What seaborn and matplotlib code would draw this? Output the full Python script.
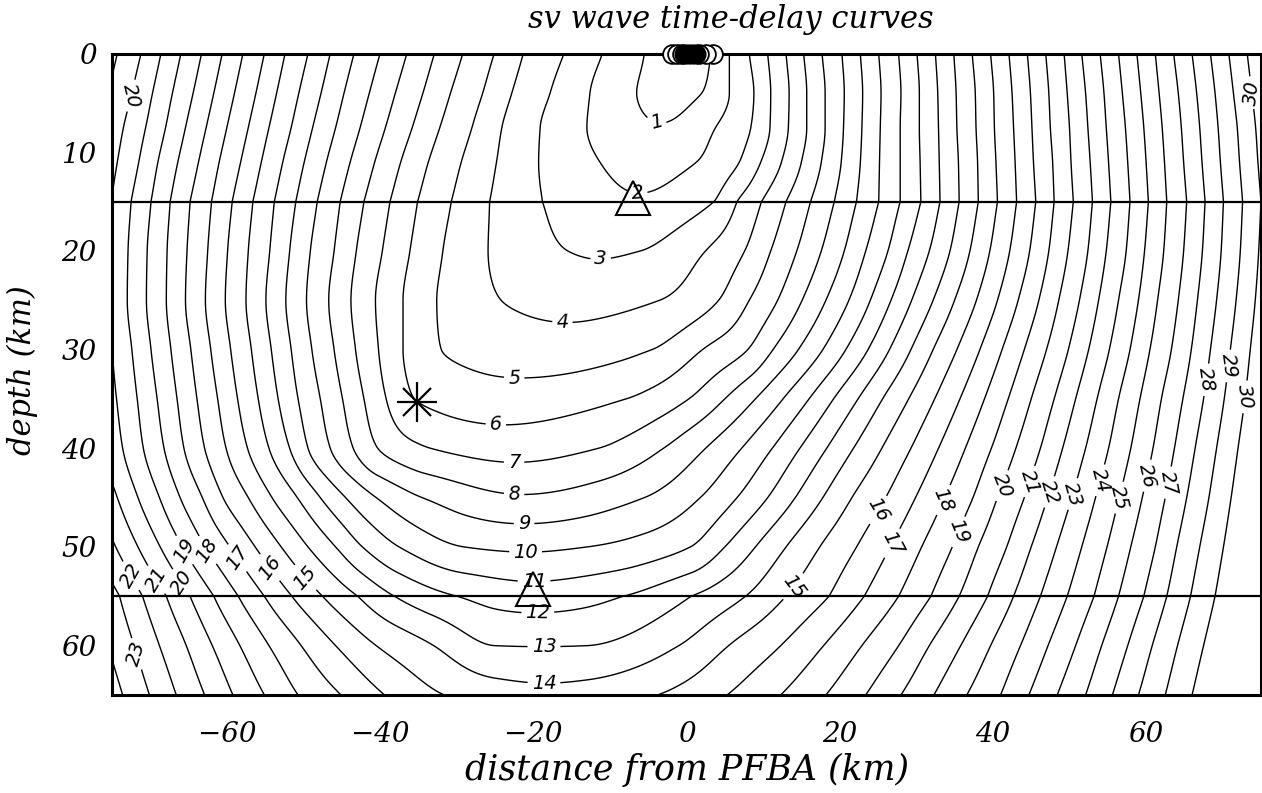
import numpy as np
import matplotlib
matplotlib.use("Agg")
import matplotlib.pyplot as plt
import seaborn as sns

# ---------------- data ----------------
# Each depth row: x-positions (km) where consecutive integer delay contours
# cross that depth, left of the row minimum (going outward) and right of it.
ROW_DEPTHS = [0.0, 4.0, 7.5, 11.0, 15.0, 20.0, 25.0, 30.0, 35.0, 40.0, 45.0, 50.0,
              55.0, 60.0, 65.0]

Z00_MIN = (0.0, 0.0)
Z00_LEFT0 = 1
Z00_LEFT = [-5.5, -11.0, -16.0, -21.3, -25.1, -29.2, -32.9, -36.5, -40.0, -43.4, -46.5,
            -49.4, -52.4, -55.1, -57.9, -60.6, -63.3, -66.0, -68.6, -71.2, -74.3]
Z00_RIGHT0 = 1
Z00_RIGHT = [3.2, 5.6, 8.2, 10.6, 13.0, 15.3, 17.7, 20.3, 22.7, 25.1, 27.7, 30.1, 32.5,
             34.9, 37.3, 39.7, 42.1, 44.5, 46.9, 49.3, 51.6, 54.0, 56.4, 58.8, 61.2,
             63.6, 66.0, 68.4, 70.8, 73.2]

Z04_MIN = (-2.0, 0.55)
Z04_LEFT0 = 1
Z04_LEFT = [-6.5, -12.6, -17.8, -22.8, -26.6, -30.8, -34.4, -38.0, -41.4, -44.7, -47.7,
            -50.6, -53.5, -56.2, -59.0, -61.7, -64.4, -67.1, -69.7, -72.4, -75.5]
Z04_RIGHT0 = 1
Z04_RIGHT = [2.0, 5.6, 8.8, 11.0, 13.4, 15.7, 18.1, 20.6, 23.0, 25.4, 28.0, 30.4, 32.8,
             35.2, 37.7, 40.1, 42.5, 44.9, 47.3, 49.7, 52.1, 54.5, 56.9, 59.3, 61.7,
             64.2, 66.6, 69.0, 71.4, 73.8]

Z07_MIN = (-3.4, 1.07)
Z07_LEFT0 = 2
Z07_LEFT = [-13.0, -19.1, -24.1, -28.0, -32.2, -35.8, -39.3, -42.6, -45.8, -48.8, -51.6,
            -54.5, -57.2, -60.0, -62.7, -65.4, -68.0, -70.6, -73.5]
Z07_RIGHT0 = 2
Z07_RIGHT = [3.8, 8.4, 10.9, 13.3, 15.7, 18.1, 20.5, 22.9, 25.3, 27.9, 30.4, 32.9, 35.3,
             37.8, 40.2, 42.7, 45.1, 47.5, 50.0, 52.4, 54.8, 57.3, 59.7, 62.1, 64.6,
             67.0, 69.4, 71.9, 74.3]

Z11_MIN = (-5.0, 1.6)
Z11_LEFT0 = 2
Z11_LEFT = [-11.3, -19.3, -24.8, -29.4, -33.7, -37.3, -40.7, -43.9, -47.0, -49.9, -52.7,
            -55.5, -58.2, -61.0, -63.7, -66.4, -69.0, -71.5, -74.3]
Z11_RIGHT0 = 2
Z11_RIGHT = [1.3, 6.9, 9.7, 12.4, 15.0, 17.6, 20.2, 22.7, 25.2, 27.9, 30.5, 33.0, 35.5,
             38.0, 40.4, 42.9, 45.3, 47.8, 50.2, 52.7, 55.1, 57.6, 60.0, 62.4, 64.9,
             67.3, 69.7, 72.2, 74.6]

Z15_MIN = (-6.5, 2.1)
Z15_LEFT0 = 3
Z15_LEFT = [-18.8, -25.7, -30.7, -35.1, -38.7, -42.1, -45.2, -48.2, -51.0, -53.8, -56.6,
            -59.3, -62.0, -64.8, -67.4, -69.9, -72.5]
Z15_RIGHT0 = 3
Z15_RIGHT = [3.6, 6.6, 9.8, 13.0, 16.2, 19.3, 22.2, 25.1, 27.9, 30.6, 33.1, 35.6, 38.1,
             40.6, 43.1, 45.6, 48.0, 50.5, 53.0, 55.4, 57.9, 60.3, 62.7, 65.3, 67.7,
             70.1, 72.6, 75.0]

Z20_MIN = (-11.0, 2.88)
Z20_LEFT0 = 3
Z20_LEFT = [-15.5, -25.9, -31.8, -36.1, -39.7, -43.1, -46.0, -49.1, -51.8, -54.4, -57.2,
            -59.9, -62.5, -65.2, -67.8, -70.4, -72.9]
Z20_RIGHT0 = 3
Z20_RIGHT = [-6.0, 2.5, 7.6, 11.0, 14.4, 17.6, 20.6, 23.4, 26.3, 28.9, 31.7, 34.4, 37.0,
             39.6, 42.2, 44.8, 47.3, 49.8, 52.4, 54.8, 57.4, 59.8, 62.3, 64.9, 67.35,
             69.8, 72.3, 74.7]

Z25_MIN = (-14.0, 3.65)
Z25_LEFT0 = 4
Z25_LEFT = [-24.2, -32.6, -37.0, -40.6, -43.8, -46.7, -49.6, -52.3, -54.9, -57.5, -60.2,
            -62.8, -65.4, -67.9, -70.5, -73.0, -75.5]
Z25_RIGHT0 = 4
Z25_RIGHT = [-3.5, 4.2, 8.2, 11.9, 15.1, 18.2, 21.2, 24.0, 26.7, 29.4, 32.2, 35.0, 37.85,
             40.6, 43.3, 46.0, 48.6, 51.3, 53.8, 56.4, 59.0, 61.5, 64.2, 66.7, 69.2,
             71.75, 74.25]

Z30_MIN = (-18.0, 4.45)
Z30_LEFT0 = 5
Z30_LEFT = [-32.0, -37.0, -40.2, -43.2, -46.0, -48.9, -51.6, -54.2, -56.8, -59.5, -62.1,
            -64.7, -67.3, -69.9, -72.4, -75.0]
Z30_RIGHT0 = 5
Z30_RIGHT = [-4.5, 2.1, 8.0, 11.3, 14.6, 17.8, 20.8, 23.7, 26.5, 29.3, 32.2, 35.3, 38.3,
             41.2, 44.1, 47.0, 49.85, 52.5, 55.2, 57.9, 60.5, 63.3, 65.9, 68.4, 71.0, 73.6]

Z35_MIN = (-24.0, 5.42)
Z35_LEFT0 = 6
Z35_LEFT = [-35.5, -39.2, -42.1, -44.9, -47.8, -50.7, -53.3, -55.9, -58.6, -61.2, -63.9,
            -66.5, -69.1, -71.7, -74.4]
Z35_RIGHT0 = 6
Z35_RIGHT = [-7.9, 0.3, 5.0, 9.0, 12.6, 16.0, 19.2, 22.4, 25.6, 29.0, 32.4, 35.7, 38.9,
             42.0, 45.0, 48.0, 50.8, 53.6, 56.4, 59.2, 62.0, 64.8, 67.5, 70.2, 72.9]

Z40_MIN = (-23.0, 6.6)
Z40_LEFT0 = 7
Z40_LEFT = [-33.4, -40.3, -43.5, -46.5, -49.4, -51.8, -54.5, -57.3, -60.1, -62.9, -65.6,
            -68.2, -70.9, -73.6, -76.2]
Z40_RIGHT0 = 7
Z40_RIGHT = [-11.5, -3.0, 2.5, 7.2, 11.2, 14.8, 18.3, 21.8, 25.5, 29.3, 32.9, 36.4, 39.8,
             43.0, 46.2, 49.1, 52.1, 55.1, 58.0, 60.9, 63.7, 66.4, 69.2, 72.0, 74.8]

Z45_MIN = (-21.5, 8.1)
Z45_LEFT0 = 9
Z45_LEFT = [-34.5, -40.5, -44.5, -47.8, -50.8, -54.1, -57.2, -60.5, -63.2, -66.1, -68.8,
            -71.6, -74.3, -77.1]
Z45_RIGHT0 = 9
Z45_RIGHT = [-5.5, 1.8, 6.6, 10.6, 14.2, 17.8, 21.6, 26.0, 29.9, 33.7, 37.4, 40.6, 44.1,
             47.15, 50.3, 53.4, 56.5, 59.5, 62.5, 65.3, 68.2, 71.1, 74.0]

Z50_MIN = (-21.0, 9.82)
Z50_LEFT0 = 10
Z50_LEFT = [-29.0, -37.5, -42.3, -45.8, -49.4, -52.9, -56.3, -59.6, -62.8, -65.8, -68.7,
            -71.6, -74.5, -77.4]
Z50_RIGHT0 = 10
Z50_RIGHT = [-13.0, 0.5, 5.0, 9.0, 13.0, 17.4, 22.2, 26.6, 30.7, 34.7, 38.1, 41.8, 45.0,
             48.3, 51.6, 54.9, 58.0, 61.2, 64.0, 67.0, 70.1, 73.1]

Z55_MIN = (-20.0, 11.5)
Z55_LEFT0 = 12
Z55_LEFT = [-29.9, -38.1, -42.9, -47.5, -51.5, -55.1, -58.5, -61.7, -64.8, -67.9, -71.0, -74.0]
Z55_RIGHT0 = 12
Z55_RIGHT = [-8.3, 0.6, 7.7, 13.0, 18.6, 23.2, 27.7, 31.9, 35.6, 39.3, 42.7, 46.2, 49.7,
             53.2, 56.4, 59.7, 62.7, 65.8, 69.0, 72.2, 75.4]

Z60_MIN = (-19.0, 12.97)
Z60_LEFT0 = 13
Z60_LEFT = [-25.0, -33.0, -40.5, -45.8, -50.3, -54.5, -58.3, -61.9, -65.3, -68.8, -72.1, -75.5]
Z60_RIGHT0 = 13
Z60_RIGHT = [-13.0, -1.0, 5.5, 12.3, 17.9, 22.9, 27.7, 31.7, 35.8, 39.7, 43.6, 47.2, 50.8,
             54.2, 57.6, 60.8, 64.1, 67.5, 70.9, 74.3]

Z65_MIN = (-18.5, 14.32)
Z65_LEFT0 = 15
Z65_LEFT = [-31.6, -39.4, -45.1, -50.7, -55.1, -59.2, -62.9, -66.6, -70.1, -73.6]
Z65_RIGHT0 = 15
Z65_RIGHT = [-3.8, 5.3, 12.3, 18.2, 23.4, 28.0, 32.3, 36.6, 41.0, 44.7, 48.4, 52.1, 55.6,
             59.0, 62.5, 66.0, 69.5, 73.0]

CONTOUR_LEVELS = list(range(1, 31))
LAYER_BOUNDS = [0.0, 15.0, 55.0, 65.0]      # velocity-layer interfaces (km)
INTERFACE_DEPTHS = [15.0, 55.0]

TRIANGLE_X = [-7.0, -20.0]
TRIANGLE_Z = [14.6, 54.3]
SOURCE_X = [-35.2]
SOURCE_Z = [35.3]
STATION_OPEN_X = [-1.9, -1.2, -0.6, 3.5, 2.6, 1.7]
STATION_FILLED_X = [-0.3, 0.2, 0.7, 1.2]

# label anchor positions (layout only)
LABEL_XY = [(-72.3, 4.3), (73.4, 4.0), (-3.8, 6.5), (-6.4, 14.0), (-11.2, 20.9),
            (-16.2, 27.5), (-22.5, 33.2), (-24.9, 37.8), (-22.5, 41.4), (-22.5, 44.7),
            (-21.2, 47.8), (-21.0, 50.6), (-19.9, 53.3), (-19.4, 56.7), (-18.6, 60.1),
            (-18.6, 63.7), (14.3, 54.2), (26.2, 46.8), (27.3, 49.8), (34.0, 45.4),
            (35.3, 48.4), (41.6, 43.9), (44.9, 43.4), (47.3, 44.4), (50.3, 44.6),
            (53.8, 43.2), (56.0, 44.9), (59.7, 42.7), (62.3, 43.4), (68.2, 33.1),
            (71.2, 31.7), (73.0, 34.8), (-49.9, 53.2), (-54.6, 52.2), (-58.4, 51.0),
            (-62.5, 50.3), (-65.5, 50.3), (-66.0, 53.7), (-69.2, 53.3), (-72.7, 53.0),
            (-72.5, 61.0)]

ROWS = [
    (Z00_MIN, Z00_LEFT, Z00_LEFT0, Z00_RIGHT, Z00_RIGHT0),
    (Z04_MIN, Z04_LEFT, Z04_LEFT0, Z04_RIGHT, Z04_RIGHT0),
    (Z07_MIN, Z07_LEFT, Z07_LEFT0, Z07_RIGHT, Z07_RIGHT0),
    (Z11_MIN, Z11_LEFT, Z11_LEFT0, Z11_RIGHT, Z11_RIGHT0),
    (Z15_MIN, Z15_LEFT, Z15_LEFT0, Z15_RIGHT, Z15_RIGHT0),
    (Z20_MIN, Z20_LEFT, Z20_LEFT0, Z20_RIGHT, Z20_RIGHT0),
    (Z25_MIN, Z25_LEFT, Z25_LEFT0, Z25_RIGHT, Z25_RIGHT0),
    (Z30_MIN, Z30_LEFT, Z30_LEFT0, Z30_RIGHT, Z30_RIGHT0),
    (Z35_MIN, Z35_LEFT, Z35_LEFT0, Z35_RIGHT, Z35_RIGHT0),
    (Z40_MIN, Z40_LEFT, Z40_LEFT0, Z40_RIGHT, Z40_RIGHT0),
    (Z45_MIN, Z45_LEFT, Z45_LEFT0, Z45_RIGHT, Z45_RIGHT0),
    (Z50_MIN, Z50_LEFT, Z50_LEFT0, Z50_RIGHT, Z50_RIGHT0),
    (Z55_MIN, Z55_LEFT, Z55_LEFT0, Z55_RIGHT, Z55_RIGHT0),
    (Z60_MIN, Z60_LEFT, Z60_LEFT0, Z60_RIGHT, Z60_RIGHT0),
    (Z65_MIN, Z65_LEFT, Z65_LEFT0, Z65_RIGHT, Z65_RIGHT0),
]


# ---------------- smooth (monotone) curves through the read values ----------------
def pchip_cols(xk, V, xq):
    """Monotone cubic Hermite through rows of V (K, N) at knots xk, evaluated at xq."""
    xk = np.asarray(xk, float)
    V = np.asarray(V, float)
    if V.ndim == 1:
        V = V[:, None]
    K = len(xk)
    h = np.diff(xk)
    d = np.diff(V, axis=0) / h[:, None]
    m = np.zeros_like(V)
    m[0] = d[0]
    m[-1] = d[-1]
    for k in range(1, K - 1):
        w1 = 2 * h[k] + h[k - 1]
        w2 = h[k] + 2 * h[k - 1]
        same = d[k - 1] * d[k] > 0
        with np.errstate(divide="ignore", invalid="ignore"):
            hm = (w1 + w2) / (w1 / d[k - 1] + w2 / d[k])
        m[k] = np.where(same, hm, 0.0)
    xq = np.asarray(xq, float)
    idx = np.clip(np.searchsorted(xk, xq, side="right") - 1, 0, K - 2)
    t = ((xq - xk[idx]) / h[idx])[:, None]
    hh = h[idx][:, None]
    h00 = 2 * t**3 - 3 * t**2 + 1
    h10 = t**3 - 2 * t**2 + t
    h01 = -2 * t**3 + 3 * t**2
    h11 = t**3 - t**2
    out = h00 * V[idx] + h10 * hh * m[idx] + h01 * V[idx + 1] + h11 * hh * m[idx + 1]
    lo = xq < xk[0]
    hi = xq > xk[-1]
    out[lo] = V[0] + d[0] * (xq[lo] - xk[0])[:, None]
    out[hi] = V[-1] + d[-1] * (xq[hi] - xk[-1])[:, None]
    return out


def row_profile(xq, mn, left, left0, right, right0):
    xs = list(left[::-1]) + [mn[0]] + list(right)
    ts = [left0 + i for i in range(len(left))][::-1] + [mn[1]] + \
         [right0 + i for i in range(len(right))]
    return pchip_cols(xs, ts, xq)[:, 0]


xg = np.linspace(-75, 75, 751)
zg = np.linspace(0, 65, 651)
row_vals = np.array([row_profile(xg, *r) for r in ROWS])
depths = np.array(ROW_DEPTHS)
F = np.empty((len(zg), len(xg)))
for za, zb in zip(LAYER_BOUNDS[:-1], LAYER_BOUNDS[1:]):
    sel = (depths >= za) & (depths <= zb)
    mask = (zg >= za) & (zg <= zb)
    F[mask] = pchip_cols(depths[sel], row_vals[sel], zg[mask])

# ---------------- figure ----------------
sns.set_theme(style="white")
plt.rcParams["font.family"] = ["DejaVu Serif", "DejaVu Sans"]
plt.rcParams["axes.unicode_minus"] = True
plt.rcParams["text.color"] = "black"
plt.rcParams["axes.labelcolor"] = "black"
plt.rcParams["xtick.color"] = "black"
plt.rcParams["ytick.color"] = "black"

fig = plt.figure(figsize=(12.62, 7.93), dpi=100)
ax = fig.add_axes([0.0887, 0.1236, 0.9105, 0.8089])

X, Z = np.meshgrid(xg, zg)
cs = ax.contour(X, Z, F, levels=CONTOUR_LEVELS, colors="black", linewidths=1.0)
labels = ax.clabel(cs, manual=LABEL_XY, inline=True, inline_spacing=4, fmt="%d",
                   fontsize=14)
for t in labels:
    t.set_family("DejaVu Sans")
    t.set_style("italic")
    t.set_color("black")

for zi in INTERFACE_DEPTHS:
    sns.lineplot(x=[-75, 75], y=[zi, zi], color="black", linewidth=1.6, ax=ax,
                 legend=False)

ax.plot(TRIANGLE_X, TRIANGLE_Z, linestyle="none", marker="^", markersize=25,
        markerfacecolor="none", markeredgecolor="black", markeredgewidth=1.5, zorder=5)
ax.plot(SOURCE_X, SOURCE_Z, linestyle="none", marker="+", markersize=29,
        markeredgecolor="black", markeredgewidth=1.6, zorder=5)
ax.plot(SOURCE_X, SOURCE_Z, linestyle="none", marker="x", markersize=20,
        markeredgecolor="black", markeredgewidth=1.6, zorder=5)
for sx in STATION_OPEN_X:
    ax.plot([sx], [0.0], linestyle="none", marker="o", markersize=13.5,
            markerfacecolor="white", markeredgecolor="black", markeredgewidth=1.3,
            zorder=6, clip_on=False)
for sx in STATION_FILLED_X:
    ax.plot([sx], [0.0], linestyle="none", marker="o", markersize=13.5,
            markerfacecolor="black", markeredgecolor="black", markeredgewidth=1.0,
            zorder=7, clip_on=False)

ax.set_xlim(-75, 75)
ax.set_ylim(65, 0)
ax.set_xticks([-60, -40, -20, 0, 20, 40, 60])
ax.set_yticks([0, 10, 20, 30, 40, 50, 60])
ax.tick_params(axis="both", direction="in", length=6, width=1.5, colors="black",
               labelsize=20)
ax.tick_params(axis="x", pad=19)
ax.tick_params(axis="y", pad=11)
for lab in ax.get_xticklabels() + ax.get_yticklabels():
    lab.set_style("italic")
for sp in ax.spines.values():
    sp.set_linewidth(2.2)
    sp.set_color("black")
    sp.set_visible(True)
ax.set_xlabel("")
ax.set_ylabel("")

fig.text(0.579, 0.975, "sv wave time-delay curves", ha="center", va="center",
         fontsize=22, style="italic", color="black")
fig.text(0.544, 0.029, "distance from PFBA (km)", ha="center", va="center",
         fontsize=25, style="italic", color="black")
fig.text(0.018, 0.533, "depth (km)", ha="center", va="center", rotation=90,
         fontsize=22, style="italic", color="black")

fig.savefig("out.png", dpi=100)
